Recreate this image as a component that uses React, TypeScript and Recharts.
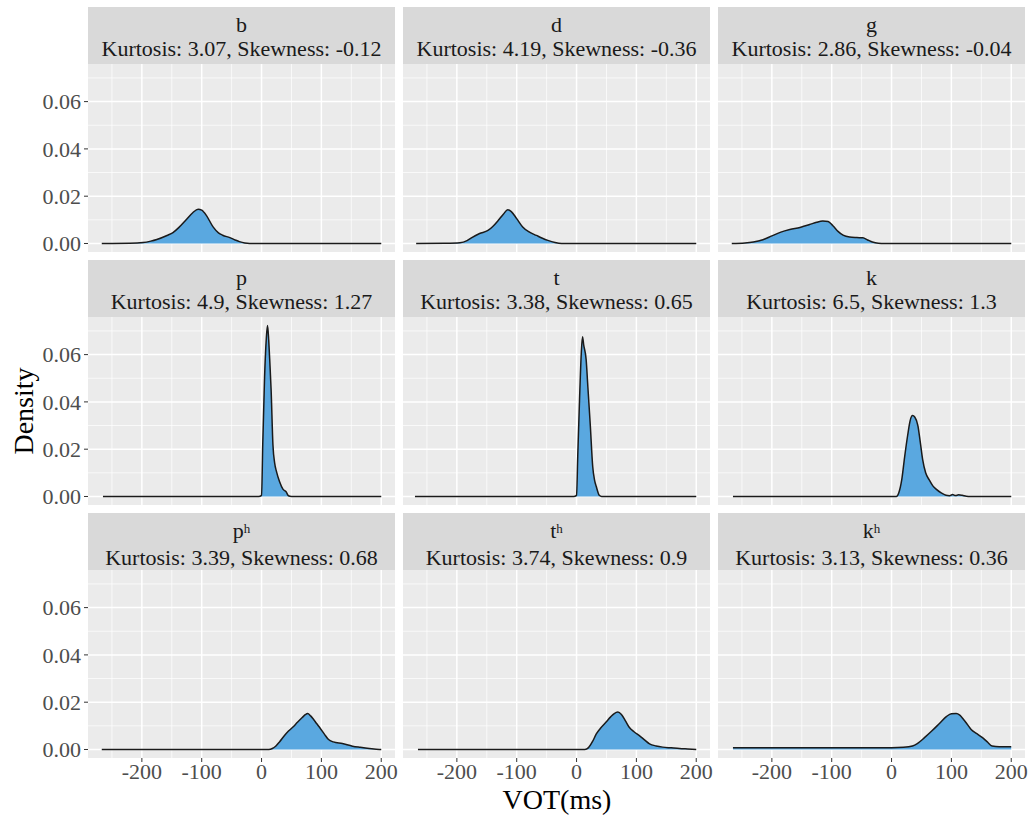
import React from 'react'
import { AreaChart, Area, XAxis, YAxis, CartesianGrid } from 'recharts'

const serif = '"Liberation Serif", "Times New Roman", serif'

// one facet per stop consonant, filled row by row
const consonants = ['b', 'd', 'g', 'p', 't', 'k', 'p', 't', 'k']
const aspirated = [false, false, false, false, false, false, true, true, true]
const kurtosis = [3.07, 4.19, 2.86, 4.9, 3.38, 6.5, 3.39, 3.74, 3.13]
const skewness = [-0.12, -0.36, -0.04, 1.27, 0.65, 1.3, 0.68, 0.9, 0.36]

// kernel density of VOT, [ms, density]
const bDensity: [number, number][] = [
    [-267, 0], [-220, 0.0001], [-198, 0.0004], [-185, 0.001], [-175, 0.0017],
    [-158, 0.0034], [-148, 0.0046], [-138, 0.0068], [-126, 0.01], [-115, 0.013],
    [-106, 0.0145], [-100, 0.0141], [-92, 0.0118], [-81, 0.007], [-72, 0.0045],
    [-65, 0.0035], [-53, 0.0025], [-44, 0.0015], [-37, 0.0008], [-28, 0.0002],
    [-20, 0], [200, 0],
]
const dDensity: [number, number][] = [
    [-268, 0], [-220, 0.0001], [-195, 0.0003], [-183, 0.0012], [-175, 0.0025],
    [-162, 0.0042], [-148, 0.0055], [-140, 0.0072], [-131, 0.0097], [-122, 0.0125],
    [-115, 0.0143], [-109, 0.0135], [-100, 0.0105], [-90, 0.007], [-80, 0.005],
    [-67, 0.0034], [-57, 0.0022], [-48, 0.0013], [-36, 0.0004], [-25, 0],
    [200, 0],
]
const gDensity: [number, number][] = [
    [-267, 0], [-245, 0.0002], [-231, 0.0006], [-215, 0.0016], [-200, 0.0032],
    [-185, 0.0048], [-170, 0.0059], [-153, 0.0068], [-137, 0.008], [-125, 0.009],
    [-115, 0.0095], [-106, 0.0093], [-98, 0.0075], [-89, 0.005], [-81, 0.0035],
    [-70, 0.0027], [-58, 0.0025], [-48, 0.0024], [-40, 0.0015], [-32, 0.0006],
    [-22, 0.0001], [-12, 0], [200, 0],
]
const pDensity: [number, number][] = [
    [-265, 0], [-5, 0], [0, 0.0005], [2, 0.022], [5, 0.05], [8, 0.067],
    [10, 0.0723], [12, 0.066], [14, 0.056], [16, 0.045], [19, 0.022], [22, 0.014],
    [25, 0.0105], [30, 0.0063], [36, 0.003], [41, 0.002], [45, 0.0003], [50, 0],
    [200, 0],
]
const tDensity: [number, number][] = [
    [-270, 0], [-5, 0], [0, 0.0005], [2, 0.017], [5, 0.041], [8, 0.061],
    [10, 0.0676], [12, 0.064], [16, 0.058], [19, 0.046], [23, 0.03], [27, 0.0127],
    [30, 0.007], [33, 0.0042], [38, 0.0005], [42, 0], [200, 0],
]
const kDensity: [number, number][] = [
    [-265, 0], [8, 0], [12, 0.0015], [17, 0.007], [22, 0.017], [27, 0.026],
    [31, 0.032], [35, 0.0342], [39, 0.0335], [44, 0.03], [48, 0.023], [52, 0.0156],
    [57, 0.01], [63, 0.007], [69, 0.0045], [75, 0.003], [83, 0.0015], [91, 0.0005],
    [97, 0.0003], [102, 0.0008], [107, 0.0004], [112, 0.0007], [118, 0.0005],
    [125, 0.0001], [132, 0], [200, 0],
]
const phDensity: [number, number][] = [
    [-267, 0], [12, 0], [18, 0.0004], [24, 0.0015], [30, 0.0032], [38, 0.0058],
    [45, 0.0078], [52, 0.0094], [60, 0.0115], [68, 0.0135], [73, 0.0147],
    [77, 0.0152], [82, 0.0142], [87, 0.0127], [92, 0.011], [98, 0.009],
    [105, 0.0065], [112, 0.0042], [120, 0.0032], [135, 0.0025], [152, 0.0014],
    [165, 0.0009], [180, 0.0004], [197, 0], [200, 0],
]
const thDensity: [number, number][] = [
    [-265, 0], [14, 0], [20, 0.0008], [27, 0.0035], [33, 0.0066], [40, 0.009],
    [49, 0.0115], [57, 0.0138], [63, 0.0152], [69, 0.0158], [75, 0.0148],
    [82, 0.012], [88, 0.0094], [96, 0.0075], [105, 0.0059], [113, 0.0042],
    [122, 0.0024], [133, 0.0015], [144, 0.001], [158, 0.0007], [172, 0.0004],
    [186, 0.0002], [200, 0],
]
const khDensity: [number, number][] = [
    [-265, 0.0007], [0, 0.0007], [20, 0.0009], [35, 0.0015], [43, 0.0025],
    [55, 0.005], [68, 0.008], [80, 0.011], [92, 0.014], [100, 0.0151],
    [108, 0.0152], [114, 0.0145], [120, 0.0128], [127, 0.0105], [133, 0.0085],
    [142, 0.0068], [152, 0.005], [160, 0.0032], [168, 0.0015], [180, 0.0012],
    [200, 0.0012],
]
const densities = [
    bDensity, dDensity, gDensity,
    pDensity, tDensity, kDensity,
    phDensity, thDensity, khDensity,
]

const xBreaks = [-200, -100, 0, 100, 200]
const xMinor = [-250, -150, -50, 50, 150]
const yBreaks = [0, 0.02, 0.04, 0.06]
const yMinor = [0.01, 0.03, 0.05, 0.07]
const xDomain: [number, number] = [-290, 223]
const yDomain: [number, number] = [-0.0036, 0.0759]

// facet grid geometry
const PANEL_W = 307
const PANEL_H = 188
const STRIP_H = 57
const YAXIS_W = 80
const XAXIS_H = 40
const colLeft = [88, 403, 718]
const rowTop = [7, 260, 513]

const tickStyle = { fontSize: 22, fill: '#4d4d4d', fontFamily: serif }

const Facet: React.FC<{ i: number }> = ({ i }) => {
    const col = i % 3
    const row = Math.floor(i / 3)
    const showY = col === 0
    const showX = row === 2
    const padR = showX ? 24 : 0
    // room under the panel so the 0.00 label is not clipped
    const padB = !showX && showY ? 14 : 0
    const rows = densities[i].map(([x, y]) => ({ x, y }))

    return (
        <>
            <div
                style={{
                    position: 'absolute',
                    left: colLeft[col],
                    top: rowTop[row],
                    width: PANEL_W,
                    height: STRIP_H,
                    background: '#d9d9d9',
                    color: '#1a1a1a',
                    fontFamily: serif,
                    fontSize: 22,
                    lineHeight: '24px',
                    textAlign: 'center',
                    paddingTop: 6,
                    boxSizing: 'border-box',
                }}
            >
                <div>
                    {consonants[i]}
                    {aspirated[i] && (
                        <span style={{ fontSize: 13, position: 'relative', top: -5 }}>h</span>
                    )}
                </div>
                <div>
                    Kurtosis: {kurtosis[i]}, Skewness: {skewness[i]}
                </div>
            </div>
            <div
                style={{
                    position: 'absolute',
                    left: colLeft[col] - (showY ? YAXIS_W : 0),
                    top: rowTop[row] + STRIP_H,
                }}
            >
                <AreaChart
                    width={PANEL_W + (showY ? YAXIS_W : 0) + padR}
                    height={PANEL_H + (showX ? XAXIS_H : 0) + padB}
                    data={rows}
                    margin={{ top: 0, right: padR, bottom: padB, left: 0 }}
                >
                    <CartesianGrid
                        fill='#ebebeb'
                        stroke='#ffffff'
                        strokeWidth={0.7}
                        horizontalValues={yMinor}
                        verticalValues={xMinor}
                    />
                    <CartesianGrid
                        stroke='#ffffff'
                        strokeWidth={1.5}
                        horizontalValues={yBreaks}
                        verticalValues={xBreaks}
                    />
                    <XAxis
                        dataKey='x'
                        type='number'
                        domain={xDomain}
                        ticks={xBreaks}
                        interval={0}
                        allowDataOverflow
                        hide={!showX}
                        height={XAXIS_H}
                        axisLine={false}
                        tickLine={{ stroke: '#333333' }}
                        tickSize={4}
                        tickMargin={1}
                        tick={tickStyle}
                    />
                    <YAxis
                        type='number'
                        domain={yDomain}
                        ticks={yBreaks}
                        interval={0}
                        allowDataOverflow
                        hide={!showY}
                        width={YAXIS_W}
                        axisLine={false}
                        tickLine={{ stroke: '#333333' }}
                        tickSize={4}
                        tickMargin={3}
                        tick={tickStyle}
                        tickFormatter={(v: number) => v.toFixed(2)}
                    />
                    <Area
                        type='monotone'
                        dataKey='y'
                        stroke='#1a1a1a'
                        strokeWidth={1.5}
                        fill='#5aa8e0'
                        fillOpacity={1}
                        dot={false}
                        activeDot={false}
                        isAnimationActive={false}
                    />
                </AreaChart>
            </div>
        </>
    )
}

const App: React.FC = () => {
    return (
        <div
            style={{
                position: 'absolute',
                left: 0,
                top: 0,
                width: 1034,
                height: 817,
                background: '#ffffff',
            }}
        >
            {densities.map((_, i) => (
                <Facet key={i} i={i} />
            ))}
            <div
                style={{
                    position: 'absolute',
                    left: 24 - 70,
                    top: 411 - 16,
                    width: 140,
                    lineHeight: '32px',
                    textAlign: 'center',
                    fontFamily: serif,
                    fontSize: 28,
                    color: '#000000',
                    transform: 'rotate(-90deg)',
                }}
            >
                Density
            </div>
            <div
                style={{
                    position: 'absolute',
                    left: 557 - 100,
                    top: 786,
                    width: 200,
                    lineHeight: '28px',
                    textAlign: 'center',
                    fontFamily: serif,
                    fontSize: 28,
                    color: '#000000',
                }}
            >
                VOT(ms)
            </div>
        </div>
    )
}

export default App
